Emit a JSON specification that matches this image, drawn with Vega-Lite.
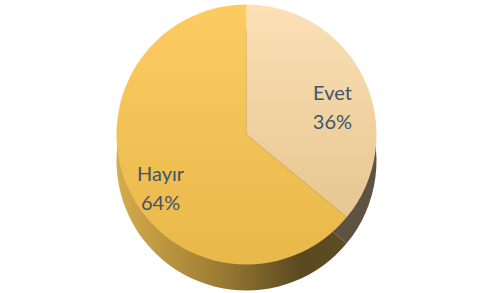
{
  "$schema": "https://vega.github.io/schema/vega-lite/v6.json",
  "width": 493,
  "height": 293,
  "autosize": {"type": "fit", "contains": "padding"},
  "background": "white",
  "view": {"stroke": null},
  "data": {
    "values": [
      {"cat": "Evet", "value": 36, "label": "Evet\n36%"},
      {"cat": "Hayır", "value": 64, "label": "Hayır\n64%"}
    ]
  },
  "encoding": {
    "theta": {"field": "value", "type": "quantitative", "stack": true, "scale": {"domain": [0, 100]}}
  },
  "layer": [
    {
      "mark": {"type": "arc", "radius": 130, "yOffset": 14},
      "encoding": {
        "color": {
          "condition": {"test": "datum.cat === 'Evet'", "value": "#5E5340"},
          "value": {
            "gradient": "linear", "x1": 0, "y1": 0, "x2": 1, "y2": 0,
            "stops": [
              {"offset": 0, "color": "#D6AC4C"},
              {"offset": 0.45, "color": "#9C7C34"},
              {"offset": 0.8, "color": "#5A4820"},
              {"offset": 1, "color": "#5E4C22"}
            ]
          }
        }
      }
    },
    {
      "mark": {"type": "arc", "radius": 130, "yOffset": -12},
      "encoding": {
        "color": {
          "condition": {
            "test": "datum.cat === 'Evet'",
            "value": {
              "gradient": "linear", "x1": 0, "y1": 0, "x2": 0, "y2": 1,
              "stops": [
                {"offset": 0, "color": "#FCE0B6"},
                {"offset": 1, "color": "#E6C690"}
              ]
            }
          },
          "value": {
            "gradient": "linear", "x1": 0, "y1": 0, "x2": 0, "y2": 1,
            "stops": [
              {"offset": 0, "color": "#FCCB62"},
              {"offset": 1, "color": "#E8B84A"}
            ]
          }
        }
      }
    },
    {
      "mark": {
        "type": "text", "radius": 95, "yOffset": -12,
        "lineBreak": "\n", "lineHeight": 29,
        "font": "Lato", "fontSize": 20, "color": "#44546A",
        "align": "center", "baseline": "middle"
      },
      "encoding": {
        "text": {"field": "label", "type": "nominal"}
      }
    }
  ]
}
